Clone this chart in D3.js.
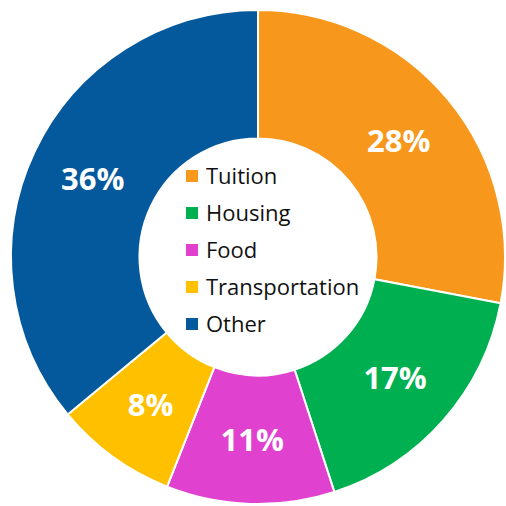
<!DOCTYPE html>
<html>
<head>
<meta charset="utf-8">
<script src="https://cdn.jsdelivr.net/npm/d3@7"></script>
<style>
  html, body { margin: 0; padding: 0; background: #fff; }
  svg { display: block; }
</style>
</head>
<body>
<div id="chart"></div>
<script>
var categories = ['Tuition', 'Housing', 'Food', 'Transportation', 'Other'];
var shares = [28, 17, 11, 8, 36];
var colors = ['#F7981D', '#00B050', '#E042CF', '#FFC000', '#04599C'];

var width = 506, height = 506;
var cx = 258, cy = 257;
var outerR = 247, innerR = 118.5;

var svg = d3.select('#chart').append('svg')
    .attr('width', width)
    .attr('height', height);

var g = svg.append('g').attr('transform', 'translate(' + cx + ',' + cy + ')');

var data = categories.map(function(c, i) {
    return { name: c, value: shares[i], color: colors[i] };
});

var pie = d3.pie().sort(null).value(function(d) { return d.value; });
var arc = d3.arc().innerRadius(innerR).outerRadius(outerR);

var slices = g.selectAll('.slice')
    .data(pie(data))
    .enter().append('g')
    .attr('class', 'slice');

slices.append('path')
    .attr('d', arc)
    .attr('fill', function(d) { return d.data.color; })
    .attr('stroke', '#fff')
    .attr('stroke-width', 2);

slices.append('text')
    .attr('transform', function(d) { return 'translate(' + arc.centroid(d) + ')'; })
    .attr('text-anchor', 'middle')
    .attr('dy', '0.36em')
    .attr('fill', '#fff')
    .style('font-family', '"Open Sans", sans-serif')
    .style('font-weight', 'bold')
    .style('font-size', '31px')
    .text(function(d) { return d.data.value + '%'; });

// legend inside the hole
var legend = svg.append('g').attr('transform', 'translate(186,176)');
var row = legend.selectAll('.row')
    .data(data)
    .enter().append('g')
    .attr('class', 'row')
    .attr('transform', function(d, i) { return 'translate(0,' + (i * 37) + ')'; });

row.append('rect')
    .attr('x', 0)
    .attr('y', -6)
    .attr('width', 12)
    .attr('height', 12)
    .attr('fill', function(d) { return d.color; });

row.append('text')
    .attr('x', 20)
    .attr('dy', '0.36em')
    .attr('fill', '#111')
    .style('font-family', '"Open Sans", sans-serif')
    .style('font-size', '22px')
    .text(function(d) { return d.name; });
</script>
</body>
</html>
